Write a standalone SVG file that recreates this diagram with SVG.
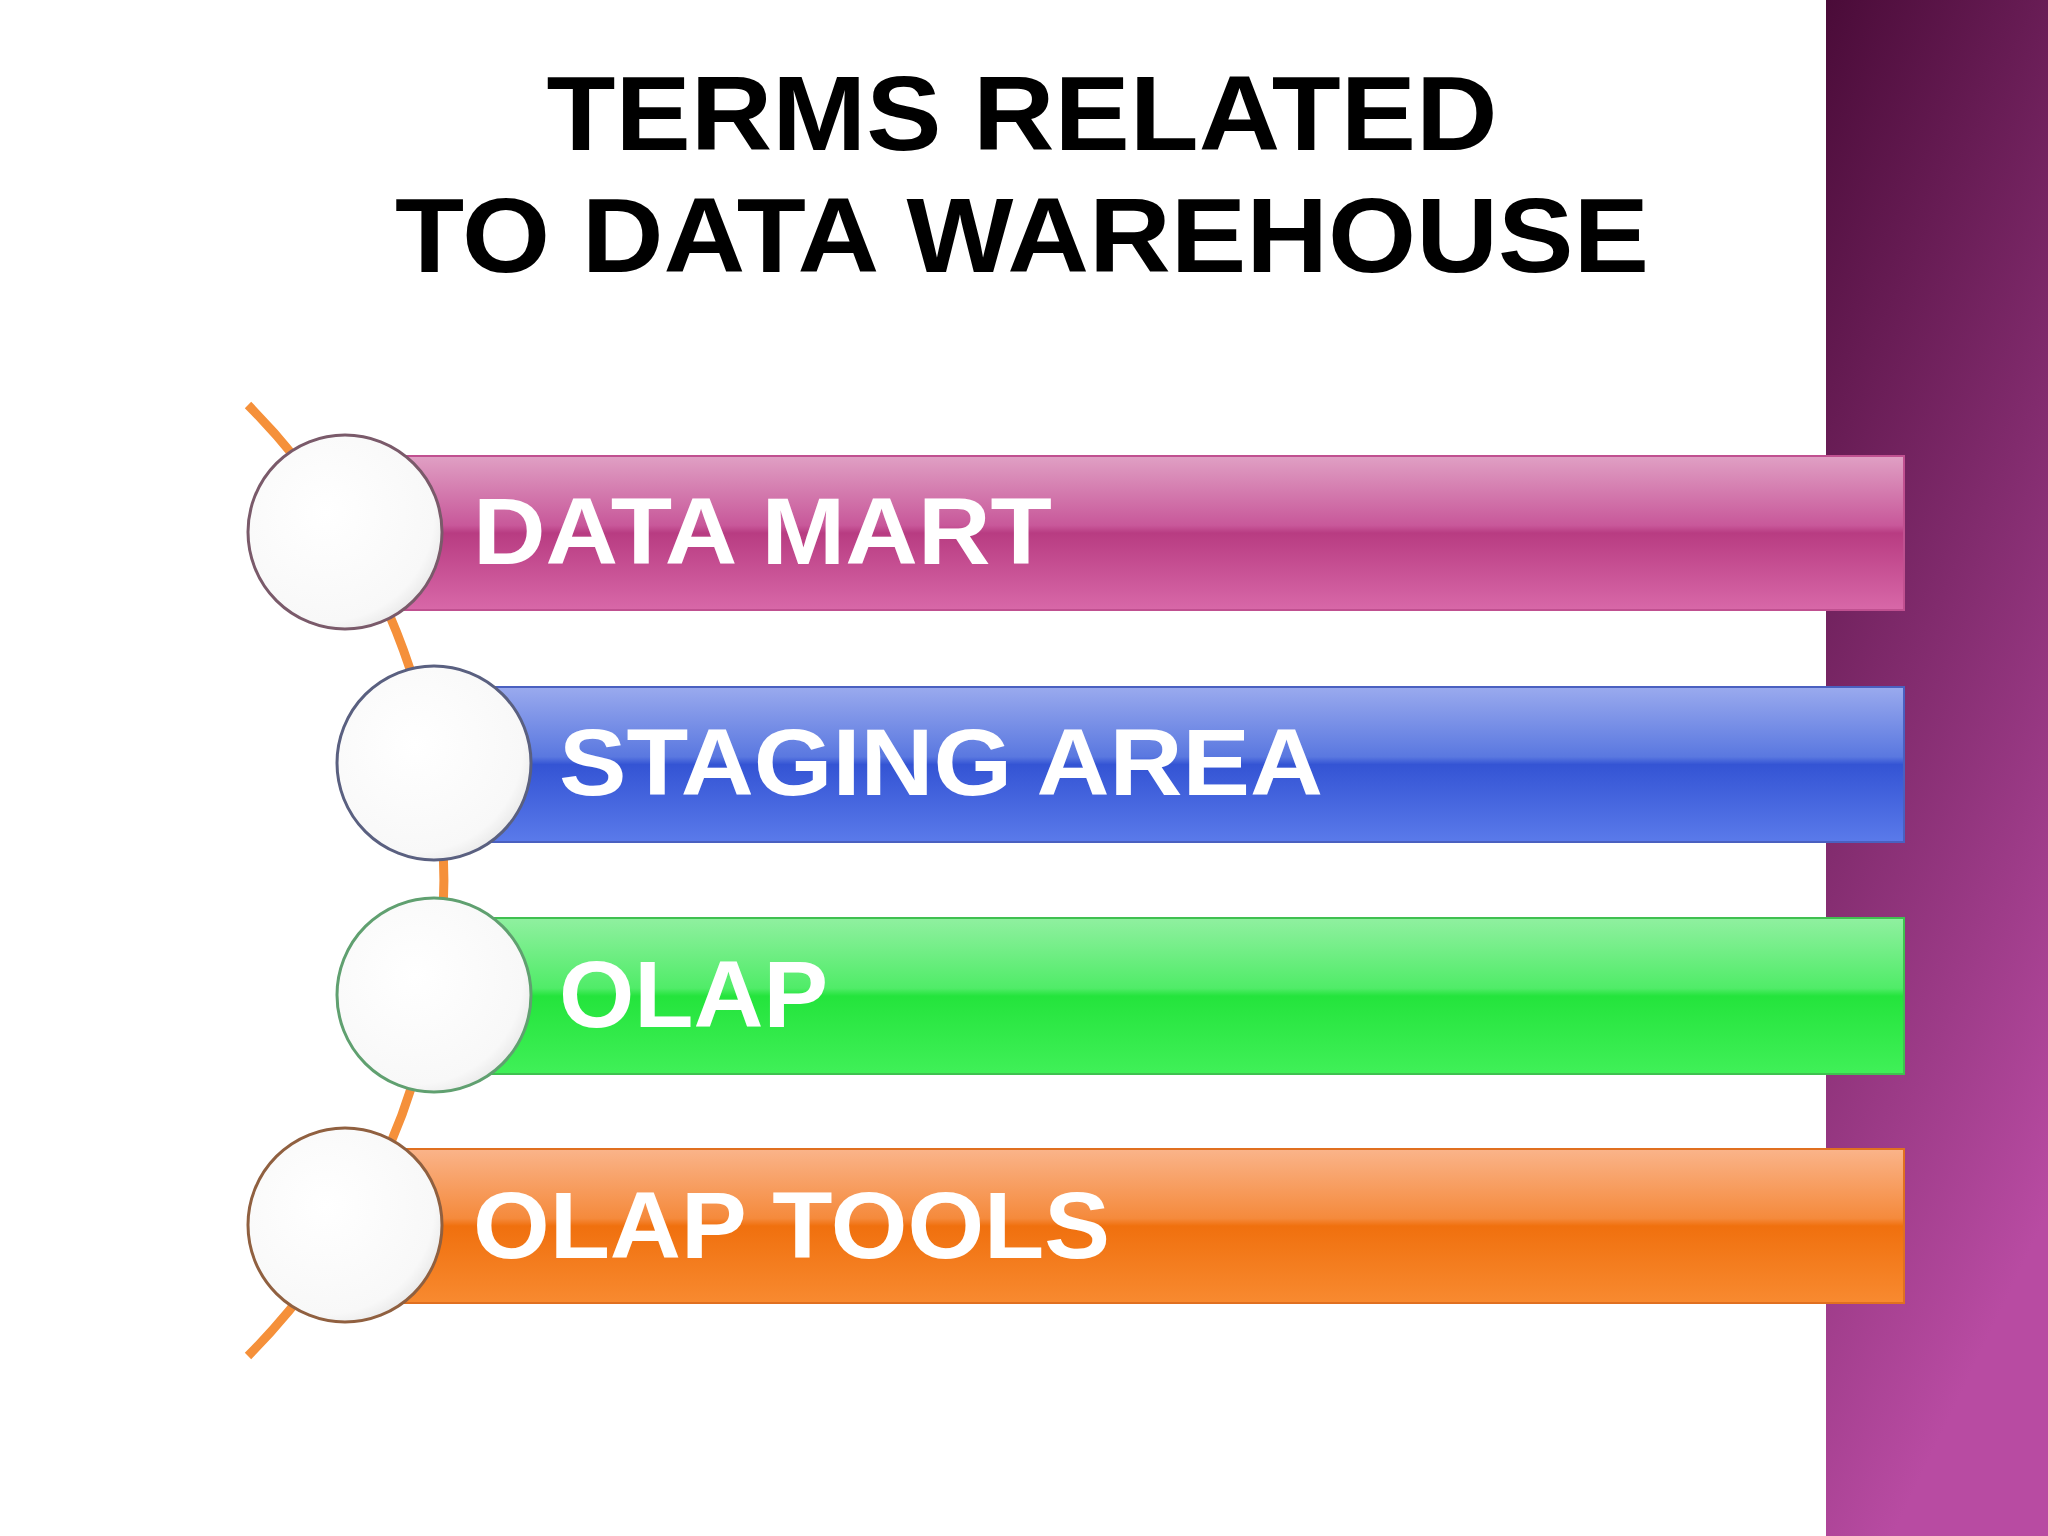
<svg xmlns="http://www.w3.org/2000/svg" width="2048" height="1536" viewBox="0 0 2048 1536">
<defs>
<linearGradient id="band" x1="0" y1="0" x2="0.3" y2="1"><stop offset="0" stop-color="#4a0b38"/><stop offset="1" stop-color="#b84ba2"/></linearGradient>
<linearGradient id="gp" x1="0" y1="0" x2="0" y2="1"><stop offset="0" stop-color="#e0a0c4"/><stop offset="0.45" stop-color="#c8589a"/><stop offset="0.5" stop-color="#b83c82"/><stop offset="1" stop-color="#d868a8"/></linearGradient>
<linearGradient id="gb" x1="0" y1="0" x2="0" y2="1"><stop offset="0" stop-color="#9aaaee"/><stop offset="0.45" stop-color="#5a78e0"/><stop offset="0.5" stop-color="#3454d4"/><stop offset="1" stop-color="#5a7aea"/></linearGradient>
<linearGradient id="gg" x1="0" y1="0" x2="0" y2="1"><stop offset="0" stop-color="#90f0a0"/><stop offset="0.45" stop-color="#50ec68"/><stop offset="0.5" stop-color="#24e43c"/><stop offset="1" stop-color="#40f058"/></linearGradient>
<linearGradient id="go" x1="0" y1="0" x2="0" y2="1"><stop offset="0" stop-color="#fab48a"/><stop offset="0.45" stop-color="#f58a3c"/><stop offset="0.5" stop-color="#f0700e"/><stop offset="1" stop-color="#f88a30"/></linearGradient>
<radialGradient id="circ" cx="0.4" cy="0.4" r="0.7"><stop offset="0" stop-color="#ffffff"/><stop offset="0.8" stop-color="#f8f8f8"/><stop offset="1" stop-color="#e0e0e0"/></radialGradient>
</defs>
<style>
.lbl{font-family:"Liberation Sans",Arial,sans-serif;font-weight:bold;fill:#fff;font-size:94px}
.ttl{font-family:"Liberation Sans",Arial,sans-serif;font-weight:bold;fill:#000;font-size:106px;text-anchor:middle}
.c{fill:url(#circ);stroke-width:3}
</style>
<rect width="2048" height="1536" fill="#fff"/>
<rect x="1826" y="0" width="222" height="1536" fill="url(#band)"/>
<text class="ttl" x="1022" y="150" textLength="951" lengthAdjust="spacingAndGlyphs">TERMS RELATED</text>
<text class="ttl" x="1022" y="272" textLength="1254" lengthAdjust="spacingAndGlyphs">TO DATA WAREHOUSE</text>
<g id="connectors"><path d="M248 405 A675 675 0 0 1 248 1356" fill="none" stroke="#f5903a" stroke-width="9"/></g>
<g id="n1"><rect x="392" y="456" width="1512" height="154" fill="url(#gp)" stroke="#c05090" stroke-width="2"/><circle class="c" cx="345" cy="532" r="97" stroke="#7a5a6a"/><text class="lbl" x="473" y="564" textLength="579" lengthAdjust="spacingAndGlyphs">DATA MART</text></g>
<g id="n2"><rect x="483" y="687" width="1421" height="155" fill="url(#gb)" stroke="#4a60c0" stroke-width="2"/><circle class="c" cx="434" cy="763" r="97" stroke="#5a6080"/><text class="lbl" x="559" y="795" textLength="764" lengthAdjust="spacingAndGlyphs">STAGING AREA</text></g>
<g id="n3"><rect x="483" y="918" width="1421" height="156" fill="url(#gg)" stroke="#40c050" stroke-width="2"/><circle class="c" cx="434" cy="995" r="97" stroke="#60a070"/><text class="lbl" x="559" y="1027" textLength="269" lengthAdjust="spacingAndGlyphs">OLAP</text></g>
<g id="n4"><rect x="392" y="1149" width="1512" height="154" fill="url(#go)" stroke="#e07020" stroke-width="2"/><circle class="c" cx="345" cy="1225" r="97" stroke="#906040"/><text class="lbl" x="473" y="1258" textLength="637" lengthAdjust="spacingAndGlyphs">OLAP TOOLS</text></g>
</svg>
